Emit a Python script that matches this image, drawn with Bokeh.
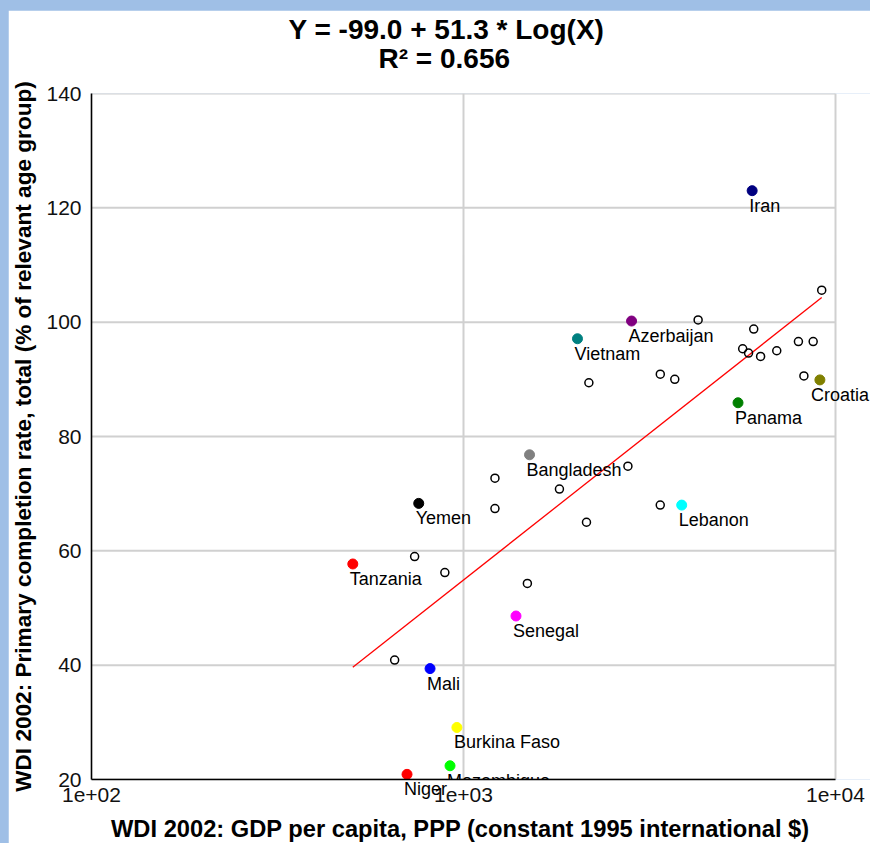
import numpy as np
from bokeh.plotting import figure
from bokeh.layouts import column
from bokeh.models import Label, FixedTicker, Title
from bokeh.embed import file_html
from bokeh.resources import INLINE

# Highlighted countries
hl_names = ["Iran", "Azerbaijan", "Vietnam", "Croatia", "Panama", "Bangladesh",
            "Lebanon", "Yemen", "Tanzania", "Senegal", "Mali", "Burkina Faso",
            "Mozambique", "Niger"]
hl_gdp = [5970, 2830, 2025, 9080, 5470, 1505, 3860, 758, 504, 1384, 813, 960, 920, 705]
hl_rate = [123.0, 100.2, 97.1, 89.9, 85.9, 76.8, 68.0, 68.3, 57.7, 48.6, 39.4, 29.1, 22.4, 20.9]
hl_colors = ["#000080", "#800080", "#008080", "#808000", "#008000", "#808080",
             "#00ffff", "#000000", "#ff0000", "#ff00ff", "#0000ff", "#ffff00",
             "#00ff00", "#ff0000"]

# Other countries (open circles)
other_gdp = [1215, 1811, 2767, 1215, 3380, 2141, 739, 891, 1485, 653,
             9183, 4273, 6029, 5630, 5838, 6291, 6952, 7950, 8710,
             2173, 3381, 3698, 8224]
other_rate = [72.7, 70.8, 74.8, 67.4, 68.0, 65.0, 59.0, 56.2, 54.3, 40.9,
              105.6, 100.4, 98.8, 95.35, 94.6, 94.0, 95.0, 96.6, 96.6,
              89.4, 90.9, 90.0, 90.6]

# Fit
fit_intercept = -99.0
fit_slope = 51.3
r_squared = 0.656

# Ticks and axis titles
x_ticks = [100, 1000, 10000]
x_tick_labels = ["1e+02", "1e+03", "1e+04"]
y_ticks = [20, 40, 60, 80, 100, 120, 140]
x_title = "WDI 2002: GDP per capita, PPP (constant 1995 international $)"
y_title = "WDI 2002: Primary completion rate, total (% of relevant age group)"

FONT = "Liberation Sans"

# the frame runs a little past 1e+04 so that the "Croatia" label is not cut at 1e+04
p = figure(width=862, height=833, margin=(10, 0, 0, 8), x_axis_type="log",
           x_range=(100, 12420), y_range=(20, 140),
           output_backend="svg", toolbar_location=None,
           min_border_left=83, min_border_right=0,
           min_border_top=83, min_border_bottom=64,
           background_fill_color="white", border_fill_color="white",
           outline_line_color=None)

# Axes
p.xaxis.ticker = FixedTicker(ticks=x_ticks)
p.yaxis.ticker = FixedTicker(ticks=y_ticks)
p.xgrid.ticker = FixedTicker(ticks=x_ticks)
p.xaxis.major_label_overrides = {t: l for t, l in zip(x_ticks, x_tick_labels)}
p.xaxis.bounds = (x_ticks[0], x_ticks[-1])
p.yaxis.bounds = (y_ticks[0], y_ticks[-1])

for ax in (p.xaxis, p.yaxis):
    ax.axis_line_color = "black"
    ax.axis_line_width = 1.6
    ax.major_tick_line_color = None
    ax.minor_tick_line_color = None
    ax.major_tick_out = 0
    ax.major_tick_in = 0
    ax.minor_tick_out = 0
    ax.major_label_text_font = FONT
    ax.major_label_text_font_size = "21px"
    ax.major_label_text_color = "#111111"
    ax.axis_label_text_font = FONT
    ax.axis_label_text_font_style = "bold"
    ax.axis_label_text_color = "black"

p.yaxis.axis_label = y_title
p.yaxis.axis_label_text_font_size = "22.6px"
p.xaxis.major_label_standoff = 8
p.yaxis.major_label_standoff = 10
p.yaxis.axis_label_standoff = 7

# x-axis title: centred under the tick span (the frame itself runs past 1e+04)
x_title_label = Label(x=float(np.sqrt(x_ticks[0] * x_ticks[-1])), y=y_ticks[0],
                      text=x_title, x_offset=-3, y_offset=-49,
                      text_align="center", text_baseline="alphabetic",
                      text_font=FONT, text_font_size="23.7px",
                      text_font_style="bold", text_color="black")
p.add_layout(x_title_label, "below")

# vertical grid lines from the grid; horizontal ones stop at the last x tick
p.xgrid.grid_line_color = "#d0d0d0"
p.xgrid.grid_line_width = 2
p.xgrid.minor_grid_line_color = None
p.ygrid.visible = False
n_y = len(y_ticks)
p.segment(x0=[x_ticks[0]] * n_y, y0=y_ticks, x1=[x_ticks[-1]] * n_y, y1=y_ticks,
          line_color="#d0d0d0", line_width=2, level="underlay")

# Regression line across the data range
all_gdp = np.array(hl_gdp + other_gdp, dtype=float)
line_x = np.array([all_gdp.min(), all_gdp.max()])
line_y = fit_intercept + fit_slope * np.log10(line_x)
p.line(line_x, line_y, line_color="#ff0000", line_width=1.3)

# Other countries
p.scatter(other_gdp, other_rate, marker="circle", size=8, fill_color=None,
          line_color="black", line_width=1.5)

# Highlighted countries
p.scatter(hl_gdp, hl_rate, marker="circle", size=10,
          fill_color=hl_colors, line_color=hl_colors)

# Country labels. "Niger" (drawn at its data position, below the x axis) goes in
# the panel nearest the frame so that the frame does not cut it.
label_x_offset = {"Croatia": -9}
for name, gx, gy in zip(hl_names, hl_gdp, hl_rate):
    lab = Label(x=gx, y=gy, text=name, x_offset=label_x_offset.get(name, -3),
                y_offset=-15, text_baseline="alphabetic", text_font=FONT,
                text_font_size="18px", text_color="black")
    if name == "Niger":
        p.add_layout(lab, "above")
    else:
        p.add_layout(lab)

# Titles: p.title is outermost; "above" additions are stacked outward from the frame
t2 = Title(text=f"R\u00b2 = {r_squared:.3f}", align="left", offset=287,
           text_font=FONT, text_font_size="28px", text_font_style="bold",
           text_color="black", standoff=0, vertical_align="bottom")
p.add_layout(t2, "above")

p.title.text = f"Y = {fit_intercept:.1f} + {fit_slope:.1f} * Log(X)"
p.title.align = "left"
p.title.offset = 197
p.title.text_font = FONT
p.title.text_font_size = "28px"
p.title.text_font_style = "bold"
p.title.text_color = "black"
p.title.vertical_align = "bottom"
p.title.standoff = -8

page = column(p, styles={"background-color": "#9fbfe6"})

open("out.html", "w").write(file_html(page, INLINE))
